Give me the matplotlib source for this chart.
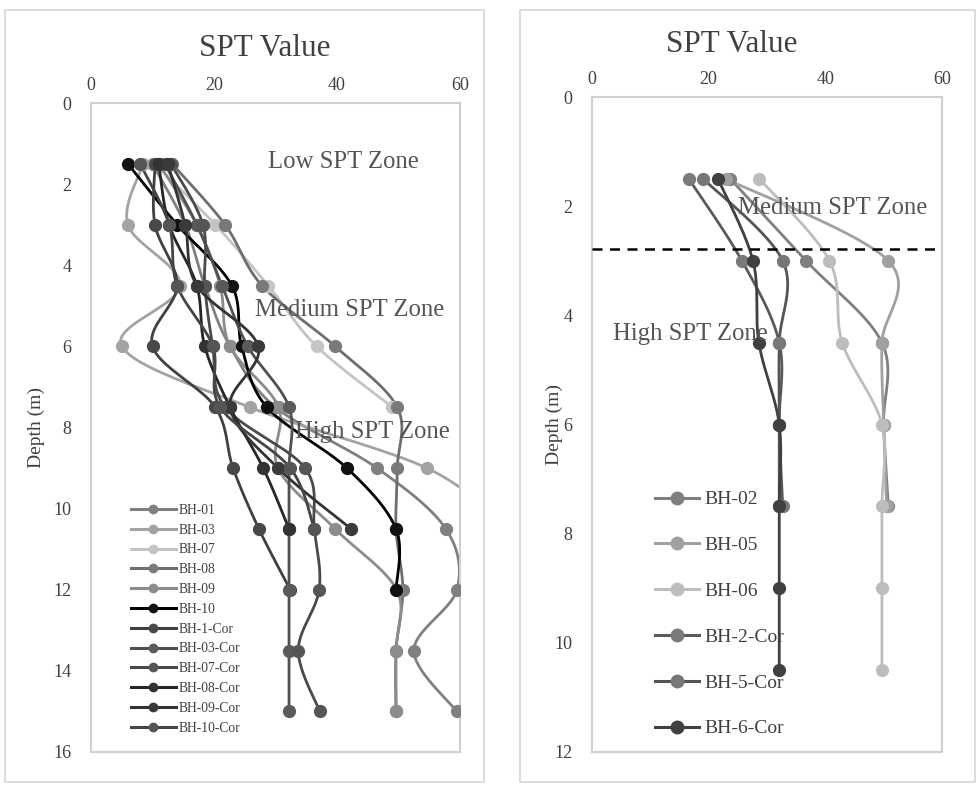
import numpy as np
import matplotlib
matplotlib.use("Agg")
import matplotlib.pyplot as plt
from matplotlib.patches import Rectangle
from matplotlib.lines import Line2D

plt.rcParams['font.family'] = ['Liberation Serif', 'DejaVu Serif']

# ---------------- data ----------------
depths = [1.5, 3, 4.5, 6, 7.5, 9, 10.5, 12, 13.5, 15]

left_names = ["BH-01", "BH-03", "BH-07", "BH-08", "BH-09", "BH-10",
              "BH-1-Cor", "BH-03-Cor", "BH-07-Cor", "BH-08-Cor", "BH-09-Cor", "BH-10-Cor"]
bh01 = [10, 15.3, 18.5, 22.6, 30, 46.5, 57.7, 59.5, 52.5, 59.5]
bh03 = [8.5, 6, 14.5, 5, 25.8, 54.6, 68]
bh07 = [10.4, 20.2, 28.8, 36.7, 49]
bh08 = [13.2, 21.8, 27.8, 39.7, 49.8, 49.8, 49.6, 50.7, 49.6, 49.6]
bh09 = [11, 17.2, 21, 22.6, 30.5, 30.4, 39.7, 49.7, 49.6, 49.6]
bh10 = [6, 14, 22.9, 24.5, 28.6, 41.6, 49.6, 49.6]
bh1c = [10.4, 10.4, 14, 10, 20.2, 23.1, 27.3, 32.4]
bh03c = [12, 17.2, 21.3, 25.5, 32.2, 32.2, 32.2, 32.2, 32.2, 32.2]
bh07c = [13, 18.2, 18.5, 19.8, 21.8, 34.8, 36.3, 37.1, 33.7, 37.2]
bh08c = [11, 12.7, 17.2, 18.5, 22.6, 28, 32.2]
bh09c = [12.5, 15.3, 17.2, 27.2, 22.6, 30.4, 42.3]
bh10c = [8, 12.7, 14, 19.8, 21, 32.4, 36.3]
left_values = [bh01, bh03, bh07, bh08, bh09, bh10, bh1c, bh03c, bh07c, bh08c, bh09c, bh10c]

right_names = ["BH-02", "BH-05", "BH-06", "BH-2-Cor", "BH-5-Cor", "BH-6-Cor"]
bh02 = [23.7, 36.7, 49.7, 50, 50.8]
bh05 = [23, 50.8, 49.7, 50, 50.5]
bh06 = [28.7, 40.7, 42.9, 49.7, 49.7, 49.7, 49.7]
bh2c = [16.6, 25.7, 32.1, 32.1, 32.7]
bh5c = [19.1, 32.7, 32.1, 32.1, 32.1]
bh6c = [21.6, 27.6, 28.6, 32.1, 32.1, 32.1, 32.1]
right_values = [bh02, bh05, bh06, bh2c, bh5c, bh6c]

x_ticks = [0, 20, 40, 60]
left_depth_ticks = [0, 2, 4, 6, 8, 10, 12, 14, 16]
right_depth_ticks = [0, 2, 4, 6, 8, 10, 12]
boundary_depth = 2.78

# ---------------- styles ----------------
left_line_colors = ["#808080", "#a3a3a3", "#c4c4c4", "#6e6e6e", "#8c8c8c", "#000000",
                    "#404040", "#505050", "#4a4a4a", "#262626", "#333333", "#454545"]
left_marker_colors = ["#808080", "#a3a3a3", "#c4c4c4", "#7a7a7a", "#8c8c8c", "#111111",
                      "#484848", "#5a5a5a", "#555555", "#333333", "#3a3a3a", "#555555"]
right_line_colors = ["#7f7f7f", "#a0a0a0", "#bdbdbd", "#5a5a5a", "#555555", "#404040"]
right_marker_colors = ["#7f7f7f", "#a0a0a0", "#bdbdbd", "#7a7a7a", "#777777", "#404040"]


def smooth(xs, ys, n=24):
    """Catmull-Rom style Bezier smoothing (spreadsheet 'smoothed line')."""
    P = np.column_stack([xs, ys]).astype(float)
    if len(P) < 3:
        return P[:, 0], P[:, 1]
    out = [P[0]]
    t = np.linspace(0, 1, n)[1:, None]
    for i in range(len(P) - 1):
        p0 = P[i - 1] if i > 0 else P[i]
        p3 = P[i + 2] if i + 2 < len(P) else P[i + 1]
        c1 = P[i] + (P[i + 1] - p0) / 6.0
        c2 = P[i + 1] - (p3 - P[i]) / 6.0
        seg = ((1 - t) ** 3) * P[i] + 3 * ((1 - t) ** 2) * t * c1 + 3 * (1 - t) * t ** 2 * c2 + t ** 3 * P[i + 1]
        out.extend(seg)
    out = np.array(out)
    return out[:, 0], out[:, 1]


W, H = 976, 785
fig = plt.figure(figsize=(W / 100, H / 100), dpi=100)

# panel borders
for (x0, y0, x1, y1) in [(5, 10, 484, 782), (520, 10, 975, 782)]:
    fig.patches.append(Rectangle((x0 / W, 1 - y1 / H), (x1 - x0) / W, (y1 - y0) / H,
                                 transform=fig.transFigure, fill=False,
                                 edgecolor="#d6d6d6", linewidth=1.2))

axL = fig.add_axes([91 / W, 1 - 752 / H, (460 - 91) / W, (752 - 103) / H])
axR = fig.add_axes([592 / W, 1 - 752 / H, (942 - 592) / W, (752 - 97) / H])


def style_axis(ax, ymax, yticks, label_x):
    ax.set_xlim(0, 60)
    ax.set_ylim(ymax, 0)
    ax.xaxis.tick_top()
    ax.set_xticks(x_ticks)
    ax.set_yticks(yticks)
    ax.tick_params(axis='both', length=0, labelsize=13, colors="#404040")
    ax.tick_params(axis='y', pad=14)
    ax.tick_params(axis='x', pad=6.5)
    for s in ax.spines.values():
        s.set_color("#d0d0d0")
        s.set_linewidth(1.5)
    ax.set_ylabel("Depth (m)", fontsize=14, color="#404040")
    ax.yaxis.set_label_coords(label_x, 0.5)


style_axis(axL, 16, left_depth_ticks, (45 - 91) / 369)
style_axis(axR, 12, right_depth_ticks, (563 - 592) / 350)

lw = 2.0
ms = 8.5
for name, vals, lc, mc in zip(left_names, left_values, left_line_colors, left_marker_colors):
    d = depths[:len(vals)]
    sx, sy = smooth(vals, d)
    axL.plot(sx, sy, color=lc, lw=lw, solid_capstyle='round', zorder=2)
    axL.plot(vals, d, 'o', color=mc, ms=ms, mec=mc, zorder=3)

for name, vals, lc, mc in zip(right_names, right_values, right_line_colors, right_marker_colors):
    d = depths[:len(vals)]
    sx, sy = smooth(vals, d)
    axR.plot(sx, sy, color=lc, lw=lw, solid_capstyle='round', zorder=2)
    axR.plot(vals, d, 'o', color=mc, ms=ms, mec=mc, zorder=3)

axR.axhline(boundary_depth, color="black", lw=1.8, ls=(0, (4, 3)), zorder=4, clip_on=False)

# zone labels
zone_kw = dict(fontsize=17.8, color="#555555", va='center', ha='left', zorder=5)
axL.text(28.8, 1.45, "Low SPT Zone", **zone_kw)
axL.text(26.7, 5.1, "Medium SPT Zone", **zone_kw)
axL.text(33.2, 8.1, "High SPT Zone", **zone_kw)
axR.text(25.0, 2.03, "Medium SPT Zone", **zone_kw)
axR.text(3.6, 4.35, "High SPT Zone", **zone_kw)

fig.text(265 / W, 1 - 48 / H, "SPT Value", fontsize=22.4, color="#404040", ha='center', va='center')
fig.text(732 / W, 1 - 45 / H, "SPT Value", fontsize=22.4, color="#404040", ha='center', va='center')

# legends
hL = [Line2D([], [], color=lc, lw=2.2, marker='o', ms=6, mfc=mc, mec=mc)
      for lc, mc in zip(left_line_colors, left_marker_colors)]
axL.legend(hL, left_names, loc='upper left', bbox_to_anchor=((124 - 91) / 369, (752 - 497) / 649),
           frameon=False, fontsize=9.8, handlelength=3.3, handletextpad=0.25,
           labelspacing=0.5, borderpad=0, labelcolor="#404040")

hR = [Line2D([], [], color=lc, lw=2.2, marker='o', ms=9, mfc=mc, mec=mc)
      for lc, mc in zip(right_line_colors, right_marker_colors)]
axR.legend(hR, right_names, loc='upper left', bbox_to_anchor=((645 - 592) / 350, (752 - 481) / 655),
           frameon=False, fontsize=14, handlelength=2.3, handletextpad=0.25,
           labelspacing=1.45, borderpad=0, labelcolor="#404040")

fig.savefig("out.png", dpi=100)
